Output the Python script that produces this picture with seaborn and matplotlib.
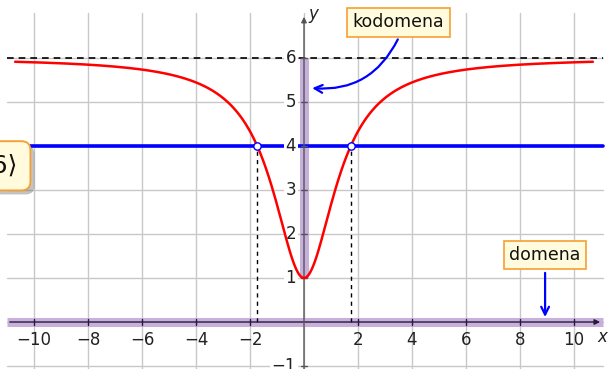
import numpy as np
import pandas as pd
import seaborn as sns
import matplotlib
matplotlib.use("Agg")
import matplotlib.pyplot as plt
from matplotlib.patches import FancyArrowPatch
import matplotlib.patheffects as pe

# Function f(x) = (6x^2 + 2) / (x^2 + 2): minimum 1 at x = 0, asymptote y = 6
ASYMPTOTE = 6.0
MIN_VALUE = 1.0
LEVEL = 4.0
X_RANGE = (-10.7, 10.7)
X_TICKS = [-10, -8, -6, -4, -2, 2, 4, 6, 8, 10]
Y_TICKS = [-1, 1, 2, 3, 4, 5, 6]
RANGE_TEXT = "⟨1, 6⟩"
DOMAIN_TEXT = "domena"
CODOMAIN_TEXT = "kodomena"

x = np.linspace(*X_RANGE, 600)
y = ASYMPTOTE - (ASYMPTOTE - MIN_VALUE) * 2.0 / (x ** 2 + 2.0)
curve = pd.DataFrame({"x": x, "y": y})
x_cross = np.sqrt(2.0 * (LEVEL - MIN_VALUE) / (ASYMPTOTE - LEVEL))

sns.set_theme(style="white")
plt.rcParams["font.family"] = ["DejaVu Sans"]

fig = plt.figure(figsize=(6.08, 3.69), dpi=100)
ax = fig.add_axes([0, 0, 1, 1])

XL, XR = -11.0, 11.07
YB, YT = -1.2, 7.02
grid_kw = dict(color="#c8c8c8", lw=1.0, zorder=0)
for gx in range(-10, 11, 2):
    ax.plot([gx, gx], [YB, YT], **grid_kw)
for gy in range(-1, 7):
    ax.plot([XL, XR], [gy, gy], **grid_kw)

# highlighted domain and codomain
band = "#c4acdb"
ax.plot([XL, XR], [0, 0], color=band, lw=6.5, alpha=0.95, solid_capstyle="butt", zorder=1)
ax.plot([0, 0], [MIN_VALUE, ASYMPTOTE], color=band, lw=6.5, alpha=0.95, solid_capstyle="butt", zorder=1)

# axes with arrows
ax.annotate("", xy=(XR, 0), xytext=(XL, 0),
            arrowprops=dict(arrowstyle="-|>", color="#2a1a3a", lw=1.0, mutation_scale=8), zorder=3)
ax.annotate("", xy=(0, 7.0), xytext=(0, YB),
            arrowprops=dict(arrowstyle="-|>", color="#555555", lw=1.0, mutation_scale=8), zorder=3)
for gx in X_TICKS:
    ax.plot([gx, gx], [-0.07, 0.07], color="#2a1a3a", lw=1.0, zorder=3)
for gy in Y_TICKS:
    ax.plot([-0.12, 0.12], [gy, gy], color="#555555", lw=1.0, zorder=3)

# asymptote and level line
ax.plot([XL, XR], [ASYMPTOTE, ASYMPTOTE], color="black", lw=1.2, ls=(0, (4, 3)), zorder=2)
ax.plot([-11.3, XR], [LEVEL, LEVEL], color="#0000ff", lw=2.6, zorder=2)
for xc in (-x_cross, x_cross):
    ax.plot([xc, xc], [0, LEVEL], color="black", lw=1.0, ls=(0, (3, 3)), zorder=2)

sns.lineplot(data=curve, x="x", y="y", color="#ff0000", lw=1.8, ax=ax, zorder=4, legend=False)
ax.set_xlim(-11.26, 11.26)
ax.set_ylim(-1.068, 7.318)
ax.set_axis_off()

ax.scatter([-x_cross, x_cross], [LEVEL, LEVEL], s=28, facecolor="white",
           edgecolor="#0000ff", lw=1.0, zorder=6)

# tick labels
for gx in X_TICKS:
    lab = f"{gx}".replace("-", "\u2212")
    ax.text(gx, -0.42, lab, ha="center", va="center", fontsize=12, color="#222222", zorder=5)
for gy in Y_TICKS:
    lab = f"{gy}".replace("-", "\u2212")
    ax.text(-0.3, gy, lab, ha="right", va="center", fontsize=12, color="#222222", zorder=3.5,
            bbox=dict(boxstyle="square,pad=0.1", fc="white", ec="none"))
ax.text(11.05, -0.35, "x", ha="center", va="center", fontsize=12, style="italic", color="#222222")
ax.text(0.35, 7.0, "y", ha="center", va="center", fontsize=12, style="italic", color="#222222")

box_kw = dict(boxstyle="square,pad=0.3", fc="#fffbdc", ec="#f5a032", lw=1.2)
ax.text(3.5, 6.81, CODOMAIN_TEXT, ha="center", va="center", fontsize=12.5, color="#111111",
        bbox=box_kw, zorder=7)
ax.text(8.93, 1.52, DOMAIN_TEXT, ha="center", va="center", fontsize=12.5, color="#111111",
        bbox=box_kw, zorder=7)

ax.add_patch(FancyArrowPatch((3.52, 6.48), (0.2, 5.32), connectionstyle="arc3,rad=-0.35",
                             arrowstyle="->", mutation_scale=14, color="#0000ff", lw=1.6, zorder=7))
ax.add_patch(FancyArrowPatch((8.93, 1.18), (8.93, 0.05), arrowstyle="->", mutation_scale=14,
                             color="#0000ff", lw=1.6, zorder=7))

t = ax.text(-10.6, 3.55, RANGE_TEXT, ha="right", va="center", fontsize=18, color="#111111",
            zorder=8, bbox=dict(boxstyle="round,pad=0.5,rounding_size=0.35", fc="#fffbdc",
                                ec="#f5a032", lw=1.2))
t.get_bbox_patch().set_path_effects([pe.withSimplePatchShadow(offset=(3, -3), shadow_rgbFace="#555555",
                                                              alpha=0.35), pe.Normal()])

fig.savefig("out.png", dpi=100)
